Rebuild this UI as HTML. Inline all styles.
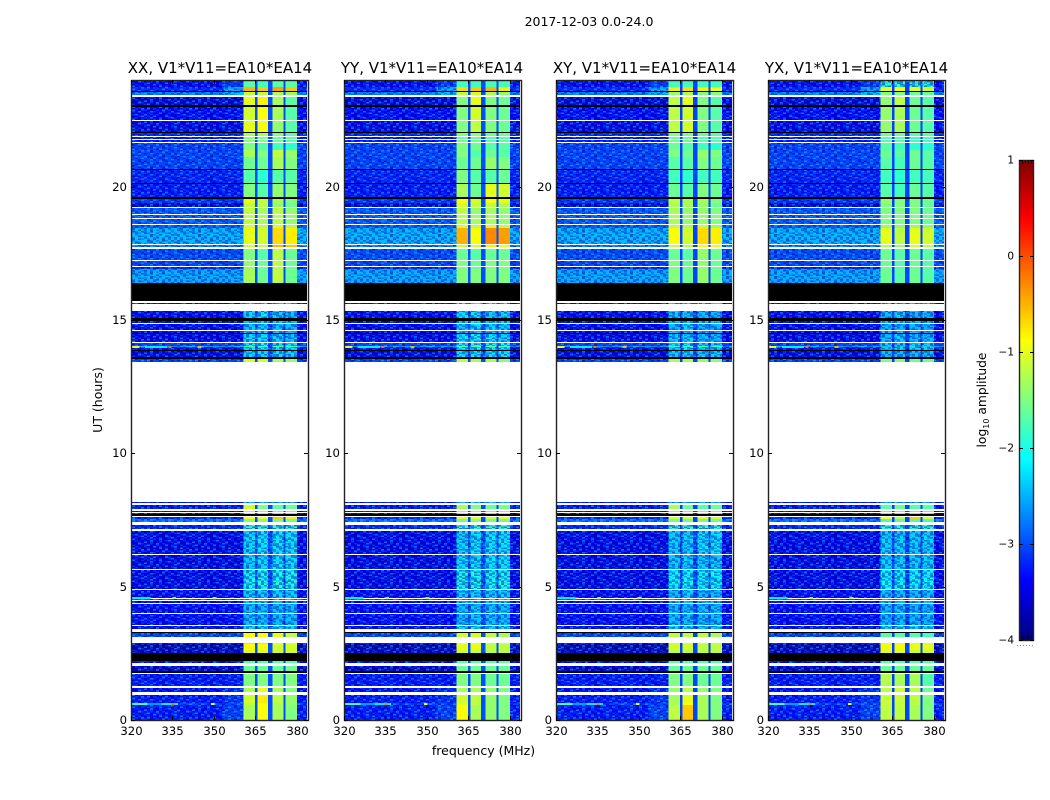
<!DOCTYPE html>
<html lang="en">
<head>
<meta charset="utf-8">
<title>2017-12-03 0.0-24.0</title>
<style>
html,body{margin:0;padding:0;background:#fff;width:1050px;height:800px;overflow:hidden}
svg{display:block;font-family:"DejaVu Sans","Liberation Sans",sans-serif;fill:#000}
</style>
</head>
<body>
<svg id="figure" xmlns="http://www.w3.org/2000/svg" width="1050" height="800" viewBox="0 0 1050 800">
  <defs>
    <pattern id="speckle" patternUnits="userSpaceOnUse" x="0" y="0" width="48" height="21"></pattern>
  </defs>

  <text x="589" y="26" font-size="12.5" text-anchor="middle">2017-12-03 0.0-24.0</text>
  <text x="220" y="73" font-size="15" text-anchor="middle">XX, V1*V11=EA10*EA14</text>
  <text x="432" y="73" font-size="15" text-anchor="middle">YY, V1*V11=EA10*EA14</text>
  <text x="644.5" y="73" font-size="15" text-anchor="middle">XY, V1*V11=EA10*EA14</text>
  <text x="856.5" y="73" font-size="15" text-anchor="middle">YX, V1*V11=EA10*EA14</text>
  <text transform="translate(102 400) rotate(-90)" font-size="12.5" text-anchor="middle">UT (hours)</text>
  <text x="483.5" y="755" font-size="12.5" text-anchor="middle">frequency (MHz)</text>
  <text transform="translate(986 400) rotate(-90)" font-size="12.3" text-anchor="middle">log<tspan font-size="8" dy="3">10</tspan><tspan dy="-3"> amplitude</tspan></text>
  <g id="panels"></g>
  <g id="colorbar"></g>
</svg>

<script>
// Time rows from the top of the plot: [top edge in UT hours, type]
// d = measured row, k = flagged (black), w = no data (blank)
const rowSpec = [
[24,'d'],[23.73,'d'],[23.58,'k'],[23.54,'d'],[23.45,'k'],[23.42,'w'],[23.37,'d'],[23.06,'k'],[23,'d'],[22.5,'w'],
[22.46,'d'],[22.06,'k'],[22.01,'d'],[21.89,'w'],[21.85,'d'],[21.78,'w'],[21.74,'d'],[21.69,'w'],[21.65,'d'],[21.38,'d'],
[21.12,'d'],[20.65,'k'],[20.63,'d'],[20.13,'k'],[20.1,'d'],[19.6,'k'],[19.54,'d'],[19.38,'d'],[19.24,'w'],[19.2,'d'],
[18.98,'w'],[18.93,'d'],[18.81,'w'],[18.78,'d'],[18.61,'w'],[18.57,'d'],[18.44,'d'],[17.86,'w'],[17.82,'d'],[17.75,'w'],
[17.66,'d'],[17.24,'w'],[17.2,'d'],[17.04,'w'],[17,'d'],[16.91,'d'],[16.38,'k'],[15.71,'w'],[15.64,'d'],[15.59,'w'],
[15.34,'d'],[15.06,'k'],[14.96,'d'],[14.88,'w'],[14.84,'d'],[14.63,'w'],[14.59,'d'],[14.52,'k'],[14.49,'d'],[14.18,'w'],
[14.14,'d'],[14.04,'d'],[13.98,'d'],[13.88,'k'],[13.84,'d'],[13.6,'k'],[13.55,'d'],[13.43,'w'],[8.18,'d'],[8.14,'w'],
[8.07,'d'],[7.9,'w'],[7.85,'d'],[7.8,'w'],[7.76,'d'],[7.71,'k'],[7.65,'w'],[7.61,'d'],[7.54,'d'],[7.41,'w'],
[7.31,'d'],[7.15,'w'],[7.08,'d'],[6.23,'w'],[6.19,'d'],[5.66,'w'],[5.63,'d'],[4.91,'w'],[4.88,'d'],[4.59,'w'],
[4.55,'d'],[4.49,'w'],[4.45,'d'],[4.38,'w'],[4.34,'d'],[4,'w'],[3.96,'d'],[3.56,'w'],[3.53,'d'],[3.4,'w'],
[3.31,'k'],[3.25,'d'],[3.11,'w'],[2.89,'d'],[2.84,'d'],[2.63,'d'],[2.5,'k'],[2.21,'d'],[2.15,'w'],[2.03,'d'],
[2,'d'],[1.83,'k'],[1.76,'w'],[1.73,'d'],[1.28,'w'],[1.2,'d'],[1.06,'w'],[0.95,'d'],[0.63,'d'],[0.56,'d']
];
const rowBottomUT = 0;

// Frequency columns (MHz) and which level each column shows:
// 0 background, 1-4 sub-bands, 5 gap, 6 near-band shoulder
const freqEdges = [320.3,353.5,360.7,364.9,365.65,369.6,371.1,375.1,375.8,380.1,383.7];
const columnLevel = [0,6,1,5,2,5,3,5,4,0];

// log10 amplitude, one entry per 'd' row
const backgroundLevel = [
-3.4,-3.2,-2.7,-3.6,-3.4,-3.5,-3.2,-3.3,-3.3,-3.05,
-3.05,-3.05,-3.25,-3.3,-3.1,-3.6,-2.9,-2.9,-2.9,-2.9,
-2.45,-2.7,-3.0,-3.05,-3.2,-2.5,-3.4,-3.4,-3.5,-3.5,
-3.5,-3.5,-3.05,-2.4,-3.4,-3.5,-3.05,-3.4,-3.3,-3.5,
-3.4,-3.2,-2.7,-3.2,-3.5,-3.5,-3.5,-3.4,-2.9,-3.4,
-3.4,-3.4,-3.5,-3.05,-3.3,-3.8,-3.7,-3.5,-3.5,-3.8,
-3.3,-3.4,-3.3,-3.05,-3.3];
const gapLevel = [-3.0,-3.0,-3.05,-3.05];
const nearBandRows = [0,1,2,61,62,63,64];
const nearBandLevels = [-3.1,-2.5,-2.4,-3.2,-3.15,-3.05,-3.05];

// Sub-band levels per 'd' row, one array per polarisation
const subBandsXX = [
[-1.7,-1.8,-1.7,-1.7],[-.5,-.6,-.4,-.6],[-1.2,-1.2,-1.3,-1.4],[-1,-.8,-1.3,-1.7],[-1.1,-.9,-1.3,-1.7],
[-1,-.9,-1.4,-1.7],[-1.3,-1.3,-1.5,-1.7],[-1.5,-1.5,-1.6,-1.7],[-1.5,-1.5,-1.6,-1.7],[-1.5,-1.7,-1.8,-1.9],
[-1.3,-1.5,-1.2,-1.4],[-1.6,-1.6,-1.3,-1.5],[-1.7,-1.9,-1.7,-1.7],[-1.5,-1.7,-1.4,-1.5],[-1,-1.2,-1.3,-1.5],
[-1.2,-1.2,-1.4,-1.6],[-1.2,-1.3,-1.2,-1.4],[-1.2,-1.3,-1.2,-1.4],[-1.2,-1.3,-1.2,-1.4],[-1.1,-1.2,-1.1,-1.3],
[-1,-1.1,-.7,-.8],[-1.1,-1.2,-.5,-.6],[-1.5,-1.7,-1.2,-1.6],[-1.4,-1.6,-1.2,-1.6],[-1.4,-1.6,-1.2,-1.6],
[-1.3,-1.6,-1.2,-1.6],[-2.3,-2.3,-2.3,-2.3],[-2.25,-2.2,-2.3,-2.35],[-2.35,-2.3,-2.35,-2.4],[-2.35,-2.3,-2.35,-2.4],
[-2.35,-2.3,-2.35,-2.4],[-2.25,-2.2,-2.3,-2.35],[-2.15,-2.1,-2.2,-2.2],[-1.8,-1.9,-1.7,-1.8],[-2.2,-2.2,-2.25,-2.2],
[-2.25,-2.25,-2.25,-2.25],[-1.1,-1.1,-1.3,-1.4],[-2.4,-2.4,-2.4,-2.4],[-1.1,-1.5,-1.7,-1.6],[-1.4,-1.5,-1.6,-1.6],
[-1.4,-1.5,-1.6,-1.6],[-.9,-.9,-.6,-.8],[-1.5,-1.5,-1.6,-1.6],[-1.9,-1.9,-1.9,-1.9],[-2.25,-2.2,-2.2,-2.2],
[-2.3,-2.25,-2.2,-2.2],[-2.05,-2,-2,-2],[-2.3,-2.3,-2.3,-2.3],[-2.3,-2.3,-2.3,-2.3],[-2.4,-2.4,-2.4,-2.4],
[-2.4,-2.4,-2.4,-2.4],[-2.4,-2.4,-2.4,-2.4],[-2.3,-2.3,-2.3,-2.3],[-.9,-.9,-1,-1.2],[-.7,-.7,-.9,-.9],
[-.9,-.9,-1.1,-1.1],[-1,-1,-1.1,-1.1],[-1.7,-1.7,-1.7,-1.7],[-1.6,-1.6,-1.6,-1.6],[-1.6,-1.6,-1.6,-1.6],
[-1.5,-1.5,-1.5,-1.5],[-1.3,-1,-1.3,-1.5],[-1.1,-.8,-1.2,-1.4],[-1.2,-.9,-1.3,-1.4],[-1.3,-.9,-1.3,-1.5]];
const subBandsYY = [
[-1.8,-1.8,-1.8,-1.8],[-.7,-.6,-.5,-.8],[-1.2,-1.1,-1.3,-1.4],[-1.5,-1,-1.5,-1.6],[-1.5,-1.1,-1.5,-1.6],
[-1.5,-1.2,-1.5,-1.6],[-1.5,-1.4,-1.6,-1.6],[-1.6,-1.6,-1.7,-1.7],[-1.6,-1.6,-1.7,-1.7],[-1.5,-1.6,-1.7,-1.7],
[-1.5,-1.7,-1.6,-1.7],[-1.6,-1.6,-1.4,-1.5],[-1.5,-1.7,-1.7,-1.6],[-1.3,-1.6,-1,-1.1],[-.9,-1.1,-.9,-1],
[-1.1,-1.2,-1.2,-1.3],[-1.2,-1.4,-1.3,-1.4],[-1.2,-1.4,-1.3,-1.4],[-1.2,-1.3,-1.3,-1.4],[-1.1,-1.2,-1.1,-1.2],
[-.5,-.9,-.3,-.4],[-1.2,-1.1,-.8,-1],[-1.6,-1.7,-1.6,-1.6],[-1.5,-1.6,-1.5,-1.5],[-1.5,-1.6,-1.5,-1.5],
[-1.5,-1.5,-1.5,-1.5],[-2.2,-2.2,-2.2,-2.2],[-2.2,-2.2,-2.3,-2.3],[-2.3,-2.2,-2.3,-2.3],[-2.3,-2.2,-2.3,-2.3],
[-2.3,-2.2,-2.3,-2.3],[-2.2,-2.1,-2.2,-2.3],[-2.1,-2,-2.1,-2.1],[-1.8,-1.8,-1.7,-1.8],[-2.1,-2.1,-2.2,-2.2],
[-2.2,-2.2,-2.2,-2.2],[-1.2,-1.3,-1.3,-1.5],[-2.3,-2.3,-2.3,-2.3],[-1.3,-1.5,-1.6,-1.5],[-1.5,-1.5,-1.6,-1.5],
[-1.5,-1.5,-1.6,-1.5],[-1,-1,-1.1,-1],[-1.6,-1.5,-1.6,-1.6],[-1.9,-1.9,-1.9,-1.9],[-2.25,-2.2,-2.2,-2.2],
[-2.2,-2.2,-2.2,-2.2],[-2,-2,-2.05,-2],[-2.3,-2.3,-2.3,-2.3],[-2.3,-2.3,-2.3,-2.3],[-2.4,-2.35,-2.4,-2.4],
[-2.4,-2.35,-2.4,-2.4],[-2.4,-2.35,-2.4,-2.4],[-2.2,-2.2,-2.3,-2.3],[-1.1,-1.1,-1.2,-1.3],[-.9,-.9,-1.1,-1],
[-1,-1,-1.2,-1.2],[-1.1,-1.1,-1.2,-1.2],[-1.7,-1.7,-1.7,-1.7],[-1.6,-1.6,-1.6,-1.6],[-1.6,-1.6,-1.6,-1.6],
[-1.5,-1.5,-1.6,-1.6],[-1.3,-1.3,-1.4,-1.5],[-1.1,-1.2,-1.4,-1.5],[-1,-1.2,-1.4,-1.5],[-.9,-1.3,-1.4,-1.5]];
const subBandsXY = [
[-1.8,-1.8,-1.8,-1.8],[-.8,-.7,-.8,-.9],[-1.4,-1.3,-1.5,-1.5],[-1.2,-1,-1.5,-1.7],[-1.2,-1.1,-1.5,-1.7],
[-1.2,-1.1,-1.5,-1.7],[-1.5,-1.5,-1.6,-1.7],[-1.6,-1.6,-1.7,-1.7],[-1.6,-1.6,-1.7,-1.7],[-1.6,-1.7,-1.8,-1.9],
[-1.5,-1.6,-1.4,-1.5],[-1.7,-1.7,-1.5,-1.6],[-1.8,-1.9,-1.8,-1.8],[-1.6,-1.7,-1.5,-1.6],[-1.2,-1.3,-1.3,-1.5],
[-1.3,-1.3,-1.4,-1.6],[-1.3,-1.4,-1.4,-1.5],[-1.3,-1.4,-1.4,-1.5],[-1.3,-1.4,-1.4,-1.5],[-1.2,-1.3,-1.2,-1.4],
[-.9,-1.1,-.7,-.8],[-1.2,-1.3,-.9,-1],[-1.6,-1.7,-1.4,-1.6],[-1.5,-1.6,-1.4,-1.6],[-1.5,-1.6,-1.4,-1.6],
[-1.5,-1.6,-1.4,-1.6],[-2.3,-2.3,-2.3,-2.3],[-2.3,-2.3,-2.4,-2.4],[-2.4,-2.3,-2.4,-2.4],[-2.4,-2.3,-2.4,-2.4],
[-2.4,-2.4,-2.4,-2.4],[-2.3,-2.3,-2.4,-2.4],[-2.2,-2.2,-2.3,-2.3],[-1.9,-1.9,-1.8,-1.9],[-2.3,-2.2,-2.3,-2.3],
[-2.3,-2.3,-2.3,-2.3],[-1.3,-1.3,-1.4,-1.5],[-2.4,-2.4,-2.4,-2.4],[-1.3,-1.6,-1.7,-1.6],[-1.5,-1.6,-1.6,-1.6],
[-1.5,-1.6,-1.6,-1.6],[-1.1,-1.1,-1,-1.1],[-1.6,-1.6,-1.6,-1.6],[-1.9,-1.9,-1.9,-1.9],[-2.3,-2.3,-2.2,-2.2],
[-2.3,-2.3,-2.3,-2.3],[-2.1,-2.1,-2.1,-2.1],[-2.4,-2.3,-2.4,-2.4],[-2.4,-2.3,-2.4,-2.4],[-2.4,-2.4,-2.4,-2.4],
[-2.4,-2.4,-2.4,-2.4],[-2.4,-2.4,-2.4,-2.4],[-2.3,-2.3,-2.3,-2.3],[-1.2,-1.2,-1.2,-1.3],[-1,-1,-1.1,-1.1],
[-1.1,-1.1,-1.2,-1.2],[-1.2,-1.2,-1.2,-1.2],[-1.7,-1.7,-1.7,-1.7],[-1.6,-1.6,-1.6,-1.6],[-1.6,-1.6,-1.6,-1.6],
[-1.5,-1.5,-1.6,-1.6],[-1.4,-1.2,-1.4,-1.5],[-1.3,-1,-1.3,-1.5],[-1.3,-.9,-1.3,-1.5],[-1.2,-.6,-1.3,-1.5]];
const subBandsYX = [
[-1.9,-1.9,-1.9,-1.9],[-1,-.9,-1,-1.1],[-1.5,-1.5,-1.6,-1.6],[-1.4,-1.2,-1.6,-1.7],[-1.4,-1.3,-1.6,-1.7],
[-1.4,-1.3,-1.6,-1.7],[-1.6,-1.6,-1.7,-1.7],[-1.7,-1.7,-1.8,-1.8],[-1.7,-1.7,-1.8,-1.8],[-1.7,-1.8,-1.9,-1.9],
[-1.6,-1.7,-1.6,-1.7],[-1.7,-1.8,-1.6,-1.7],[-1.8,-1.9,-1.8,-1.8],[-1.7,-1.8,-1.6,-1.7],[-1.4,-1.5,-1.5,-1.6],
[-1.5,-1.5,-1.5,-1.6],[-1.5,-1.5,-1.5,-1.6],[-1.5,-1.5,-1.5,-1.6],[-1.5,-1.5,-1.5,-1.6],[-1.4,-1.5,-1.4,-1.5],
[-1,-1.2,-1,-1.1],[-1.3,-1.4,-1.1,-1.2],[-1.6,-1.7,-1.6,-1.7],[-1.6,-1.7,-1.6,-1.7],[-1.6,-1.7,-1.6,-1.7],
[-1.6,-1.7,-1.6,-1.7],[-2.4,-2.4,-2.4,-2.4],[-2.4,-2.3,-2.4,-2.4],[-2.4,-2.4,-2.4,-2.5],[-2.4,-2.4,-2.4,-2.5],
[-2.4,-2.4,-2.4,-2.5],[-2.4,-2.3,-2.4,-2.4],[-2.3,-2.3,-2.3,-2.3],[-1.9,-2,-1.9,-2],[-2.3,-2.3,-2.3,-2.3],
[-2.4,-2.4,-2.4,-2.4],[-1.5,-1.5,-1.6,-1.6],[-2.4,-2.4,-2.4,-2.4],[-1.7,-1.6,-1.7,-1.7],[-1.7,-1.6,-1.7,-1.7],
[-1.7,-1.6,-1.7,-1.7],[-.9,-1.2,-.6,-1.1],[-1.8,-1.7,-1.8,-1.8],[-2,-2,-2,-2],[-2.3,-2.3,-2.3,-2.3],
[-2.3,-2.3,-2.3,-2.3],[-2.1,-2.1,-2.1,-2.1],[-2.4,-2.4,-2.4,-2.4],[-2.4,-2.4,-2.4,-2.4],[-2.45,-2.4,-2.45,-2.45],
[-2.45,-2.4,-2.45,-2.45],[-2.45,-2.4,-2.45,-2.45],[-2.3,-2.3,-2.3,-2.3],[-1.7,-1.7,-1.7,-1.8],[-1,-1,-1,-1.1],
[-.95,-.95,-1,-1],[-1,-1,-1.1,-1.1],[-1.7,-1.7,-1.7,-1.7],[-1.6,-1.6,-1.6,-1.6],[-1.6,-1.6,-1.6,-1.6],
[-1.25,-1.3,-1.3,-1.7],[-1.2,-1.1,-1.2,-1.6],[-1.15,-1.15,-1.2,-1.5],[-1.15,-1.15,-1.2,-1.5],[-1.2,-1.2,-1.3,-1.5]];

// Isolated bright channels: UT, start MHz, end MHz, level
const spotUT = [0.6,0.6,0.6,0.6,0.6,13.98,13.98,13.98,13.98,4.58,4.58,4.58];
const spotFreqStart = [320.3,326,331,334.6,349,320.3,333.5,344,325,320.3,335,349.5];
const spotFreqEnd = [326,331,337,335.8,350.2,323,334.6,345.5,333,327,336.2,351];
const spotLevel = [-1.8,-2.6,-2.2,-0.2,-1,-1,-0.2,-0.5,-2.2,-2.2,-1.3,-1.3];

const polarisations = ['xx','yy','xy','yx'];
const subBandSets = [subBandsXX,subBandsYY,subBandsXY,subBandsYX];
const freqTicks = [320,335,350,365,380];
const utTicks = [0,5,10,15,20];
const colorbarTicks = [1,0,-1,-2,-3,-4];

// Decorative noise tile, not data: + light, # bright, - dark
const speckleTile = [
'+.-#.+-..+#.-+.-',
'-+..-#.+-.+.#-+.',
'.#-+.-.#.-+-.+.#',
'+.-.+.#-+..+#.-+',
'-.#+-.+.-#-.+.#.',
'.+.-.#-.+.+#-.-+',
'#-+.+.-+.-.-+#..',
'.+-#.-.#+.-+.-+#',
'+.#-.+-.+#.-.+-.',
'-+.+.#.-.-+.#.-+',
'.-#.-+.+#.+-.+.-',
'#.+-.+.-.+-#.-+.',
'-.+.#-+.-.#+-.#+',
'+#-.+.-#.+.-+.-.'
];

// Layout
const SVGNS = 'http://www.w3.org/2000/svg';
const panelLefts = [131,344,556,768];
const panelWidth = 177;
const plotTop = 80;
const plotBottom = 720;
const freqMin = 320, freqMax = 384;
const utMin = 0, utMax = 24;
const levelMin = -4, levelMax = 1;
const noisyBandLimit = -1.85;

function make(tag, attrs, parent){
  const el = document.createElementNS(SVGNS, tag);
  for (const k in attrs) el.setAttribute(k, attrs[k]);
  parent.appendChild(el);
  return el;
}
function clamp01(v){ return Math.max(0, Math.min(1, v)); }
function jet(level){
  const t = clamp01((level - levelMin) / (levelMax - levelMin));
  const r = clamp01(1.5 - Math.abs(4*t - 3));
  const g = clamp01(1.5 - Math.abs(4*t - 2));
  const b = clamp01(1.5 - Math.abs(4*t - 1));
  return 'rgb(' + Math.round(r*255) + ',' + Math.round(g*255) + ',' + Math.round(b*255) + ')';
}
function yScale(ut){ return Math.round(plotBottom - (ut - utMin) / (utMax - utMin) * (plotBottom - plotTop)); }
function xScale(left, mhz){ return left + (mhz - freqMin) / (freqMax - freqMin) * panelWidth; }

// Build the noise tile
const specklePattern = document.getElementById('speckle');
const speckStyles = {'+':['#0050ff',.55], '#':['#10b0ff',.6], '-':['#000090',.5]};
speckleTile.forEach(function(line, r){
  line.split('').forEach(function(ch, c){
    if (speckStyles[ch]) {
      make('rect', {x:c*3, y:r*1.5, width:3, height:1.5, fill:speckStyles[ch][0], 'fill-opacity':speckStyles[ch][1]}, specklePattern);
    }
  });
});

const panelsRoot = document.getElementById('panels');

polarisations.forEach(function(pol, p){
  const left = panelLefts[p];
  const subBands = subBandSets[p];
  const g = make('g', {}, panelsRoot);
  
  

  const heat = make('g', {'shape-rendering':'crispEdges'}, g);
  
  

  let dataRow = 0;
  rowSpec.forEach(function(row, i){
    const top = yScale(row[0]);
    const nextUT = i + 1 < rowSpec.length ? rowSpec[i + 1][0] : rowBottomUT;
    const bottom = yScale(nextUT);
    const h = bottom - top;
    if (row[1] === 'w') return;
    const x0 = xScale(left, freqEdges[0]);
    const x1 = xScale(left, freqEdges[freqEdges.length - 1]);
    if (row[1] === 'k') {
      const flagged = make('rect', {x:x0, y:top, width:x1 - x0, height:h, fill:'#000'}, heat);
      
      
      return;
    }
    const bg = backgroundLevel[dataRow];
    const bands = subBands[dataRow];
    const nearIndex = nearBandRows.indexOf(dataRow);
    const near = nearIndex >= 0 ? nearBandLevels[nearIndex] : bg;
    const levels = [bg, bands[0], bands[1], bands[2], bands[3], gapLevel[p], near];
    columnLevel.forEach(function(src, c){
      const xa = xScale(left, freqEdges[c]);
      const xb = xScale(left, freqEdges[c + 1]);
      const cell = make('rect', {x:xa, y:top, width:xb - xa, height:h, fill:jet(levels[src])}, heat);
      
      
    });
    const bandStart = xScale(left, freqEdges[2]);
    const bandEnd = xScale(left, freqEdges[9]);
    const speckLeft = make('rect', {x:x0, y:top, width:bandStart - x0, height:h, fill:'url(#speckle)'}, heat);
    
    
    const speckRight = make('rect', {x:bandEnd, y:top, width:x1 - bandEnd, height:h, fill:'url(#speckle)'}, heat);
    
    
    if (Math.max(bands[0], bands[1], bands[2], bands[3]) < noisyBandLimit) {
      const speckBand = make('rect', {x:bandStart, y:top, width:bandEnd - bandStart, height:h, fill:'url(#speckle)'}, heat);
      
      
    }
    dataRow++;
  });

  spotUT.forEach(function(ut, s){
    const xa = xScale(left, spotFreqStart[s]);
    const xb = xScale(left, spotFreqEnd[s]);
    const spot = make('rect', {x:xa, y:yScale(ut) - 1, width:xb - xa, height:2, fill:jet(spotLevel[s])}, heat);
    
    
  });

  // Frame
  const frame = make('rect', {x:left + .5, y:plotTop + .5, width:panelWidth, height:plotBottom - plotTop, fill:'none', stroke:'#222', 'stroke-width':1.4}, g);
  
  

  // Ticks
  const ticks = make('g', {stroke:'#000', 'stroke-width':1, 'shape-rendering':'crispEdges'}, g);
  
  
  freqTicks.forEach(function(f){
    const x = Math.round(xScale(left, f)) + .5;
    make('line', {x1:x, x2:x, y1:plotBottom, y2:plotBottom - 4}, ticks);
    make('line', {x1:x, x2:x, y1:plotTop, y2:plotTop + 4}, ticks);
    const label = make('text', {x:x, y:plotBottom + 15, 'font-size':11.7, 'text-anchor':'middle'}, g);
    
    
    label.textContent = f;
  });
  utTicks.forEach(function(u){
    const y = yScale(u) + .5;
    make('line', {x1:left, x2:left + 4, y1:y, y2:y}, ticks);
    make('line', {x1:left + panelWidth, x2:left + panelWidth - 4, y1:y, y2:y}, ticks);
    const label = make('text', {x:left - 4, y:y + 3.5, 'font-size':11.7, 'text-anchor':'end'}, g);
    
    
    label.textContent = u;
  });
});

// Colorbar
const cbRoot = document.getElementById('colorbar');
const cbX = 1019, cbW = 15, cbTop = 160, cbBottom = 640;
function cbY(level){ return cbBottom - (level - levelMin) / (levelMax - levelMin) * (cbBottom - cbTop); }
const cbStrip = make('g', {'shape-rendering':'crispEdges'}, cbRoot);


for (let y = cbTop; y < cbBottom; y += 2) {
  const level = levelMin + (cbBottom - y - 1) / (cbBottom - cbTop) * (levelMax - levelMin);
  make('rect', {x:cbX, y:y, width:cbW, height:2, fill:jet(level)}, cbStrip);
}
const cbFrame = make('rect', {x:cbX + .5, y:cbTop + .5, width:cbW - 1, height:cbBottom - cbTop, fill:'none', stroke:'#222', 'stroke-width':1.4}, cbRoot);


colorbarTicks.forEach(function(v){
  const y = Math.round(cbY(v)) + .5;
  const tickL = make('line', {x1:cbX, x2:cbX + 4, y1:y, y2:y, stroke:'#000', 'shape-rendering':'crispEdges'}, cbRoot);
  
  
  const tickR = make('line', {x1:cbX + cbW - 4, x2:cbX + cbW, y1:y, y2:y, stroke:'#000', 'shape-rendering':'crispEdges'}, cbRoot);
  
  
  const label = make('text', {x:1014, y:y + 3, 'font-size':10.5, 'text-anchor':'end'}, cbRoot);
  
  
  label.textContent = v < 0 ? '\u2212' + Math.abs(v) : String(v);
});
[[cbTop, cbTop + 4], [cbBottom - 4, cbBottom]].forEach(function(span){
  for (let x = cbX + 3; x < cbX + cbW - 1; x += 3) {
    make('line', {x1:x + .5, x2:x + .5, y1:span[0], y2:span[1], stroke:'#000', 'stroke-opacity':.6, 'shape-rendering':'crispEdges'}, cbRoot);
  }
});
const cbDots = make('line', {x1:1017, x2:1035, y1:645.5, y2:645.5, stroke:'#888', 'stroke-dasharray':'1 2', 'shape-rendering':'crispEdges'}, cbRoot);


</script>
</body>
</html>
